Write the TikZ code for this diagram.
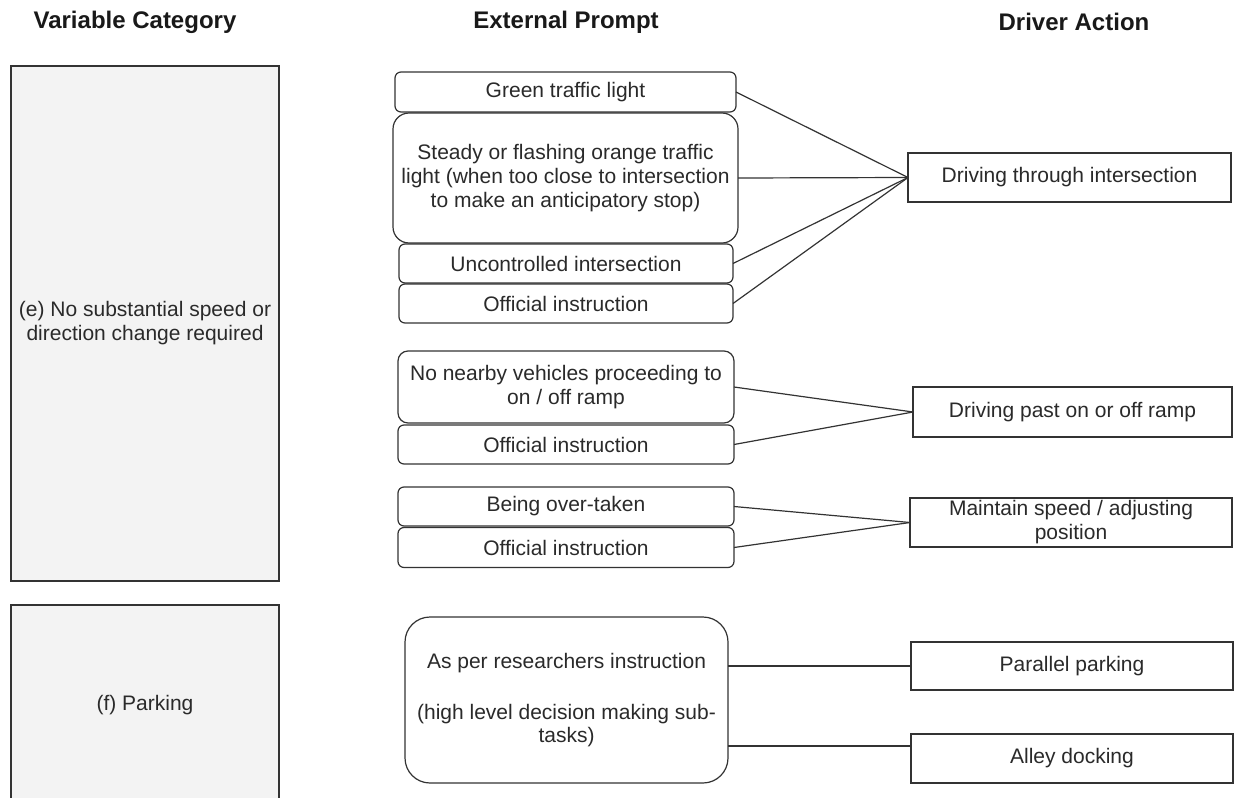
\documentclass[tikz,border=0pt]{standalone}
\usepackage{fontspec}
\setmainfont{Liberation Sans}
\definecolor{linegray}{HTML}{333333}
\definecolor{catfill}{HTML}{F3F3F3}
\definecolor{txtgray}{HTML}{2A2A2A}
\begin{document}
\begin{tikzpicture}[x=1pt,y=-1pt,
  every node/.style={inner sep=0pt, outer sep=0pt, text=txtgray},
  base/.style={draw=linegray, line width=1.2pt, align=center, font=\fontsize{21}{24}\selectfont},
  catbox/.style={base, fill=catfill, minimum width=268pt},
  prompt/.style={base, fill=white, rounded corners=6pt},
  action/.style={base, fill=white, minimum width=322pt, minimum height=49pt},
  header/.style={font=\fontsize{24}{28}\selectfont\bfseries, text=black!90},
  conn/.style={draw=linegray, line width=1.2pt}
]
\clip (0,0) rectangle (1240,798);
\fill[white] (0,0) rectangle (1240,798);

% headers
\node[header] (h1) at (135,22) {Variable Category};
\node[header] (h2) at (566,22) {External Prompt};
\node[header] (h3) at (1074,22) {Driver Action};

% category boxes
\node[catbox, minimum height=515pt] (cate) at (145,323.5) {(e) No substantial speed or\\direction change required};
\node[catbox, minimum height=200pt] (catf) at (145,705) {(f) Parking};

% prompts
\node[prompt, minimum width=341pt, minimum height=40pt] (green) at (565.5,92) {Green traffic light};
\node[prompt, rounded corners=16pt, minimum width=345pt, minimum height=130pt] (steady) at (565.5,178) {Steady or flashing orange traffic\\light (when too close to intersection\\to make an anticipatory stop)};
\node[prompt, minimum width=334pt, minimum height=39pt] (unc) at (566,263.5) {Uncontrolled intersection};
\node[prompt, minimum width=334pt, minimum height=39pt] (off1) at (566,303.5) {Official instruction};
\node[prompt, rounded corners=10pt, minimum width=336pt, minimum height=72pt] (nonear) at (566,387) {No nearby vehicles proceeding to\\on / off ramp};
\node[prompt, minimum width=336pt, minimum height=39pt] (off2) at (566,444.5) {Official instruction};
\node[prompt, minimum width=336pt, minimum height=39pt] (over) at (566,506.5) {Being over-taken};
\node[prompt, minimum width=336pt, minimum height=40pt] (off3) at (566,547.5) {Official instruction};
\node[prompt, rounded corners=25pt, minimum width=323pt, minimum height=166pt] (asper) at (566.5,700) {As per researchers instruction\\[27pt](high level decision making sub-\\[-1pt]tasks)};

% actions
\node[action, minimum width=323pt] (dti) at (1069.5,177.5) {Driving through intersection};
\node[action, minimum width=319pt, minimum height=50pt] (dpr) at (1072.5,412) {Driving past on or off ramp};
\node[action] (msp) at (1071,522.5) {Maintain speed / adjusting\\position};
\node[action, minimum height=48pt] (pp) at (1072,666) {Parallel parking};
\node[action] (ad) at (1072,758.5) {Alley docking};

% connectors
\draw[conn] (green.east) -- (dti.west);
\draw[conn] (steady.east) -- (dti.west);
\draw[conn] (unc.east) -- (dti.west);
\draw[conn] (off1.east) -- (dti.west);
\draw[conn] (nonear.east) -- (dpr.west);
\draw[conn] (off2.east) -- (dpr.west);
\draw[conn] (over.east) -- (msp.west);
\draw[conn] (off3.east) -- (msp.west);
\draw[conn] (pp.west) -- (pp.west -| asper.east);
\path (asper.east) ++(0,46) coordinate (a2);
\draw[conn] (a2) -- (a2 -| ad.west);
\end{tikzpicture}
\end{document}
